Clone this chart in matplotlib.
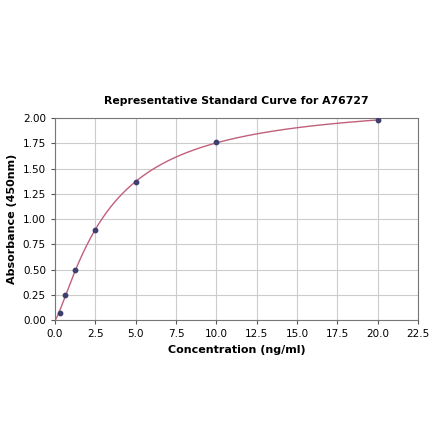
import numpy as np
import matplotlib.pyplot as plt

# === Standard curve data ===
conc = [0.0, 0.3125, 0.625, 1.25, 2.5, 5.0, 10.0, 20.0]
absorb = [0.0, 0.07, 0.25, 0.50, 0.89, 1.37, 1.76, 1.98]
xticks = [0.0, 2.5, 5.0, 7.5, 10.0, 12.5, 15.0, 17.5, 20.0, 22.5]
yticks = [0.0, 0.25, 0.5, 0.75, 1.0, 1.25, 1.5, 1.75, 2.0]

# === Fit y = a*x^b / (c^b + x^b) by coarse grid search ===
x = np.array(conc)
y = np.array(absorb)
best = None
for a in np.linspace(2.0, 2.6, 31):
    for b in np.linspace(0.8, 1.4, 31):
        for c in np.linspace(2.0, 6.0, 41):
            pred = a * x**b / (c**b + x**b)
            err = np.sum((pred - y) ** 2)
            if best is None or err < best[0]:
                best = (err, a, b, c)
_, a, b, c = best
xs = np.linspace(0, 20, 400)
ys = a * xs**b / (c**b + xs**b)

# === Plot ===
fig = plt.figure(figsize=(4.4, 4.41), dpi=100)
ax = fig.add_axes([0.125, 0.274, 0.825, 0.458])
ax.plot(xs, ys, color="#c0607a", lw=1.0, zorder=2)
ax.scatter(conc[1:], absorb[1:], s=10, color="#3f3f6f", zorder=3)

ax.set_xlim(0, 22.5)
ax.set_ylim(0, 2.0)
ax.set_xticks(xticks)
ax.set_yticks(yticks)
ax.set_xticklabels([f"{v:.1f}" for v in xticks])
ax.set_yticklabels([f"{v:.2f}" for v in yticks])
ax.tick_params(labelsize=7.5, length=3, color="#555555")
ax.grid(True, color="#cccccc", lw=0.8)
ax.set_axisbelow(True)
for s in ax.spines.values():
    s.set_color("#777777")

ax.set_xlabel("Concentration (ng/ml)", fontsize=8, fontweight="bold")
ax.set_ylabel("Absorbance (450nm)", fontsize=8, fontweight="bold")
ax.set_title("Representative Standard Curve for A76727", fontsize=7.8,
             fontweight="bold", pad=10)

plt.savefig("out.png", dpi=100)
